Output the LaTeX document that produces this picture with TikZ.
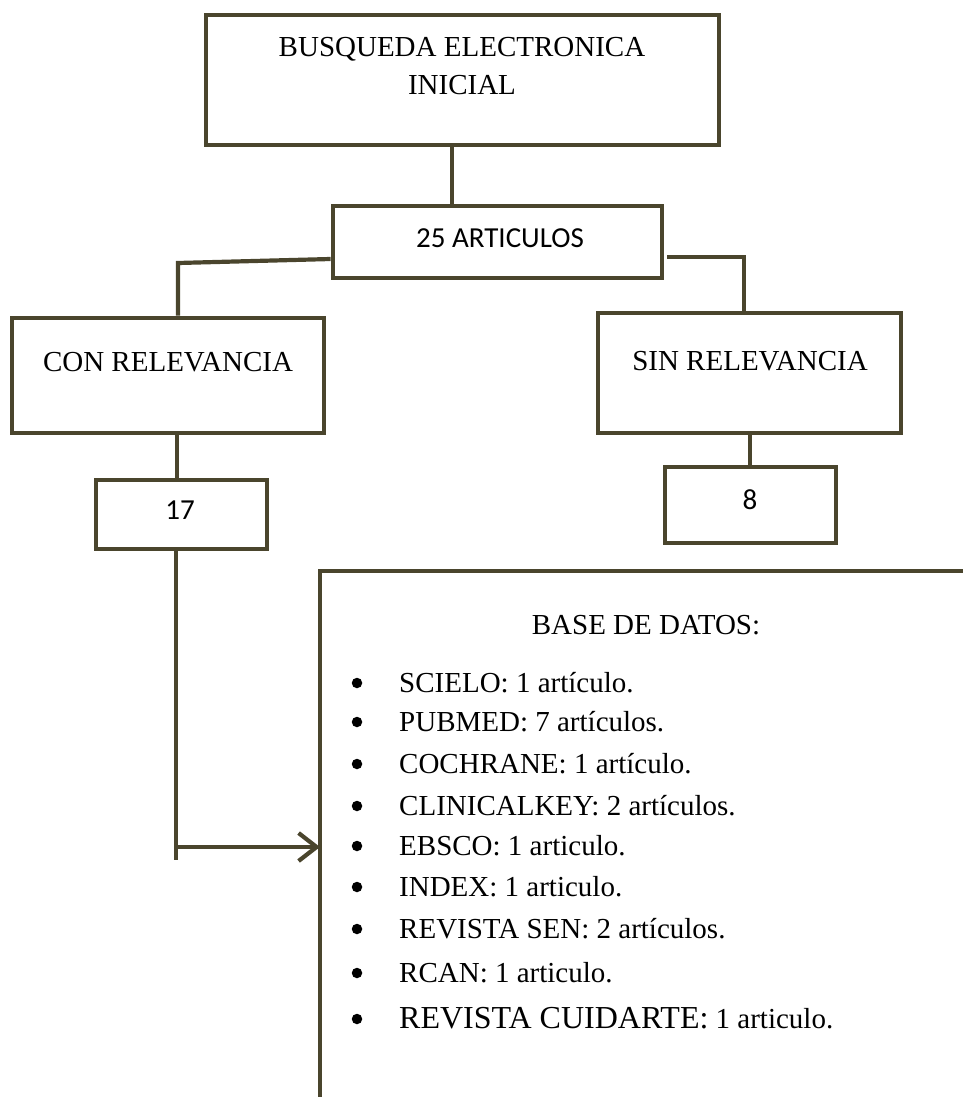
\documentclass[tikz,border=0pt]{standalone}
\usepackage{fontspec}
\setmainfont{Liberation Serif}
\newfontfamily\calib{Carlito}
\usetikzlibrary{arrows.meta,calc}
\definecolor{olive}{RGB}{74,69,45}
\begin{document}
\begin{tikzpicture}[x=1pt,y=-1pt,
  boxst/.style={draw=olive,line width=4.8pt,minimum width=#1,inner sep=0pt},
  conn/.style={draw=olive,line width=4.2pt},
  serif/.style={font=\fontsize{29}{38}\selectfont,inner sep=0pt,anchor=base},
  sans/.style={font=\calib\fontsize{29}{36}\selectfont,inner sep=0pt,anchor=base},
  itemt/.style={font=\fontsize{29}{36}\selectfont,inner sep=0pt,anchor=base west},
  bul/.style={circle,fill=black,inner sep=0pt,minimum size=10.5pt}]
\useasboundingbox (0,0) rectangle (963,1097);
% boxes
\node[boxst=513pt,minimum height=130pt] (top) at (462.5,80) {};
\node[boxst=329pt,minimum height=72pt] (art) at (497.5,242) {};
\node[boxst=312pt,minimum height=115pt] (con) at (168,375.5) {};
\node[boxst=303pt,minimum height=120pt] (sin) at (749.5,373) {};
\node[boxst=171pt,minimum height=69pt] (n17) at (181.5,514.5) {};
\node[boxst=171pt,minimum height=76pt] (n8) at (750.5,505) {};
% texts
\node[serif] (t1) at (462,57) {BUSQUEDA ELECTRONICA};
\node[serif] (t2) at (462,95) {INICIAL};
\node[sans] (tart) at (500,247) {25 ARTICULOS};
\node[serif] (tcon) at (168,371) {CON RELEVANCIA};
\node[serif] (tsin) at (750,370) {SIN RELEVANCIA};
\node[sans] (t17) at (180,519) {17};
\node[sans] (t8) at (750,509) {8};
% database box (open)
\coordinate (dbtl) at (320,571);
\coordinate (dbtr) at (966,571);
\coordinate (dbbl) at (320,1100);
\draw[conn] (dbtr) -- (dbtl) -- (dbbl);
\node[serif] (tdb) at (646,634) {BASE DE DATOS:};
\foreach \y/\t [count=\i] in {692/{SCIELO: 1 artículo.},731/{PUBMED: 7 artículos.},773/{COCHRANE: 1 artículo.},815/{CLINICALKEY: 2 artículos.},855/{EBSCO: 1 articulo.},896/{INDEX: 1 articulo.},938/{REVISTA SEN: 2 artículos.},982/{RCAN: 1 articulo.}}{
  \node[bul] (b\i) at (357,\y-9) {};
  \node[itemt] (it\i) at (399,\y) {\t};
}
\node[bul] (b9) at (357,1019) {};
\node[itemt] (it9) at (399,1028) {{\fontsize{32}{36}\selectfont REVISTA CUIDARTE:} 1 articulo.};
% connectors
\coordinate (j1) at (452,0);
\draw[conn] (top.south -| j1) -- (art.north -| j1);
\coordinate (jl) at (178,263);
\draw[conn] ([yshift=-17pt]art.west) -- (jl) -- (con.north -| jl);
\coordinate (jr) at (744,257);
\draw[conn] ([xshift=3pt,yshift=-15pt]art.east) -- (jr) -- (sin.north -| jr);
\coordinate (jc) at (177,0);
\draw[conn] (con.south -| jc) -- (n17.north -| jc);
\coordinate (js) at (750,0);
\draw[conn] (sin.south -| js) -- (n8.north -| js);
\coordinate (ja) at (176,860);
\coordinate (jb) at (176,847);
\draw[conn] (n17.south -| ja) -- (ja);
\draw[conn,-{Straight Barb[length=18pt,width=28pt,line width=4.2pt]}] (jb) -- (dbtl |- jb);
\end{tikzpicture}
\end{document}
